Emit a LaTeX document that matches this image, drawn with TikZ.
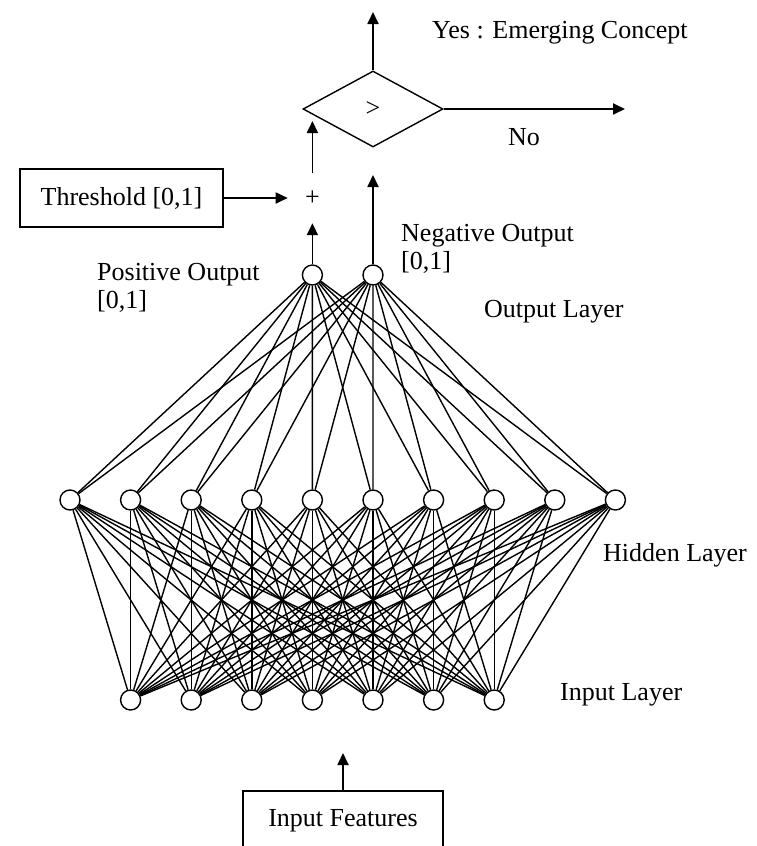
\documentclass[tikz,border=0pt]{standalone}
\usepackage{fontspec}
\setmainfont{Liberation Serif}
\usetikzlibrary{shapes.geometric,arrows.meta}
\tikzset{
  neuron/.style={
    % The shape:
    shape=circle,minimum size=20pt,inner sep=0pt,
    % The border and the filling:
    line width=1.4pt,draw=black,fill=white}}
\tikzset{
  labelbox/.style={
    % The shape:
    rectangle,inner sep=0pt,
    % The rest
    line width=1.8pt,draw=black,
    font=\fontsize{26}{30}\selectfont}}
\tikzset{
  decision/.style={
    diamond,minimum width=140pt,minimum height=76pt,inner sep=0pt,
    line width=1.4pt,draw=black,
    font=\fontsize{26}{30}\selectfont}}
\tikzset{
  caption/.style={anchor=west,inner sep=0pt,align=left,
    font=\fontsize{26}{28}\selectfont},
  wire/.style={line width=1.4pt},
  flow/.style={line width=1.8pt,-{Triangle[length=12pt,width=11pt]}}}

\begin{document}
\begin{tikzpicture}[x=1pt,y=-1pt]
	\useasboundingbox (0,0) rectangle (756,846);
	% Layers
	\foreach \i in {1,...,10}
		\node[neuron] (h\i) at ({70+60.6*(\i-1)},500) {};
	\foreach \i in {1,...,7}
		\node[neuron] (in\i) at ({130.6+60.6*(\i-1)},700) {};
	\node[neuron] (pos) at (312.4,275) {};
	\node[neuron] (neg) at (373,275) {};
	% Wires between the layers
	\foreach \i in {1,...,7}
		\foreach \j in {1,...,10}
			\draw[wire] (in\i) -- (h\j);
	\foreach \j in {1,...,10} {
		\draw[wire] (h\j) -- (pos);
		\draw[wire] (h\j) -- (neg);
	}
	% Decision part
	\node[inner sep=0pt,minimum width=49pt,minimum height=50pt,
		font=\fontsize{26}{30}\selectfont] (plus) at (312.4,198) {+};
	\node[labelbox,minimum width=203pt,minimum height=58pt] (thresh) at (121.5,198) {Threshold [0,1]};
	\node[decision] (cmp) at (373,109) {>};
	\node[labelbox,anchor=north,minimum width=200pt,text height=36pt,text depth=44pt] (feat) at (343,790) {Input Features};
	\coordinate (sumend) at (312.4,121);
	\coordinate (negend) at (373,175);
	\coordinate (yesend) at (373,12);
	\coordinate (noend) at (625,109);
	\coordinate (featend) at (343,753);
	% Arrows
	\draw[flow] (pos) -- (plus);
	\draw[flow] (thresh) -- (plus);
	\draw[flow] (plus) -- (sumend);
	\draw[flow] (neg) -- (negend);
	\draw[flow] (cmp.north) -- (yesend);
	\draw[flow] (cmp.east) -- (noend);
	\draw[flow] (feat) -- (featend);
	% Labels
	\node[caption] (yes) at (432,33) {Yes : Emerging Concept};
	\node[caption,anchor=center] (no) at (524,137) {No};
	\node[caption] (poslabel) at (97,288) {Positive Output\\{}[0,1]};
	\node[caption] (neglabel) at (401,249) {Negative Output\\{}[0,1]};
	\node[caption] (outlabel) at (484,312) {Output Layer};
	\node[caption] (hidlabel) at (603,555) {Hidden Layer};
	\node[caption] (inlabel) at (560,695) {Input Layer};
\end{tikzpicture}
\end{document}
